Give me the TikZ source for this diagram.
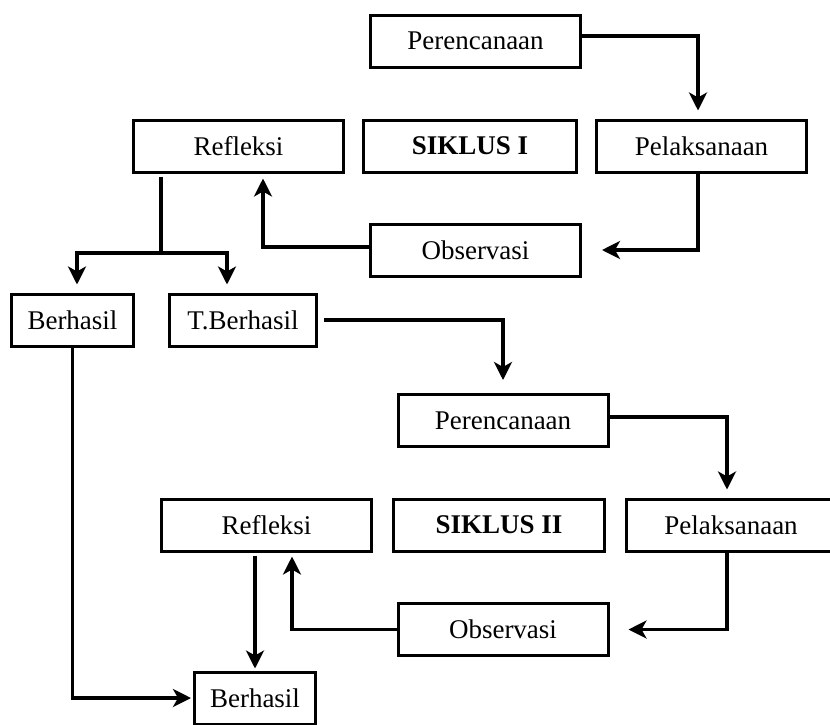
\documentclass[tikz,border=0pt]{standalone}
\usepackage{fontspec}
\setmainfont{Liberation Serif}
\usepackage{tikz}
\usetikzlibrary{arrows.meta, positioning}
\tikzset{
flow/.style={line width=3.5pt, -{Stealth[length=18pt, width=18pt, inset=5pt]}}, % connectors with a head
line/.style={line width=3.5pt}, % connectors without a head
box/.style={draw, line width=3pt, minimum width=210pt, minimum height=52pt, inner sep=0pt, font=\fontsize{27}{32}\selectfont}, % every box
title/.style={box, font=\fontsize{27}{32}\selectfont\bfseries},
}

\begin{document}
\begin{tikzpicture}[x=1pt, y=-1pt]
        \useasboundingbox (0,0) rectangle (830,724);
        % siklus I
        \node[box] (per1) at (475.5,41) {Perencanaan};
        \node[box, below of=per1, node distance=209pt] (obs1) {Observasi};
        \node[box] (ref1) at (238.5,146) {Refleksi};
        \node[title, minimum width=213pt, right of=ref1, node distance=231.5pt] (sik1) {SIKLUS I};
        \node[box, right of=sik1, node distance=231.5pt] (pel1) {Pelaksanaan};
        \node[box, minimum width=122pt] (ber1) at (72.5,320) {Berhasil};
        \node[box, minimum width=147pt, right of=ber1, node distance=170.5pt] (tb1) {T.Berhasil};
        \coordinate (split) at (161,253);
        % siklus II
        \node[box] (per2) at (503,420.5) {Perencanaan};
        \node[box, below of=per2, node distance=209pt] (obs2) {Observasi};
        \node[box] (ref2) at (266.5,525) {Refleksi};
        \node[title, minimum width=211pt, right of=ref2, node distance=232.5pt] (sik2) {SIKLUS II};
        \node[box, right of=sik2, node distance=232pt] (pel2) {Pelaksanaan};
        \node[box, minimum width=121pt] (ber2) at (255,698) {Berhasil};

        \draw[flow, shorten >=8pt] ([yshift=5pt]per1.east) -| ([xshift=-3.5pt]pel1.north);
        \draw[flow, shorten >=20pt] ([xshift=-3.5pt]pel1.south) |- (obs1.east);
        \draw[flow, shorten >=5pt] ([yshift=3pt]obs1.west) -| ([xshift=24.5pt]ref1.south);
        \draw[line, shorten <=3pt] ([xshift=-77.5pt]ref1.south) -- (split);
        \draw[flow, shorten >=8pt] (split) -| ([xshift=4.5pt]ber1.north);
        \draw[flow, shorten >=8pt] (split) -| ([xshift=-16pt]tb1.north);
        \draw[flow, shorten <=6pt, shorten >=13pt] (tb1.east) -| (per2.north);
        \draw[flow, shorten >=8pt] ([yshift=3.5pt]per2.east) -| ([xshift=-4pt]pel2.north);
        \draw[flow, shorten >=19pt] ([xshift=-4pt]pel2.south) |- (obs2.east);
        \draw[flow, shorten >=4pt] (obs2.west) -| ([xshift=25.5pt]ref2.south);
        \draw[flow, shorten <=3pt, shorten >=2pt] (ref2.south -| ber2.north) -- (ber2.north);
        \draw[flow, shorten >=2pt] (ber1.south) |- (ber2.west);
\end{tikzpicture}
\end{document}
